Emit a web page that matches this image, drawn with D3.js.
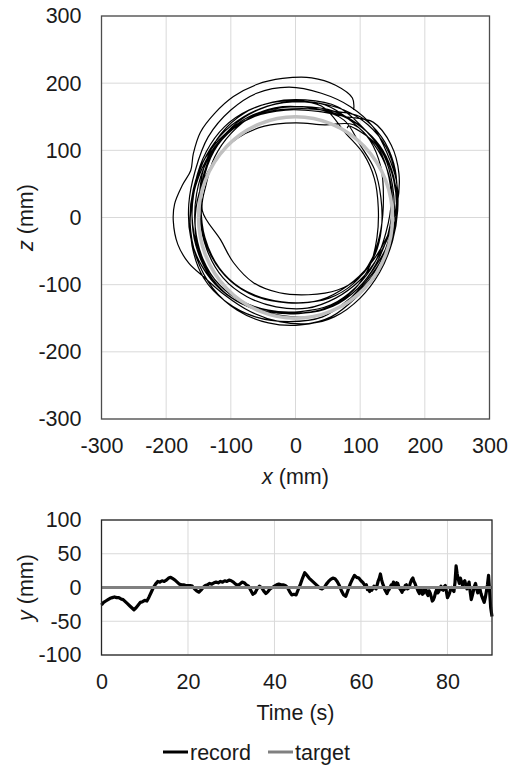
<!DOCTYPE html>
<html><head><meta charset="utf-8">
<script src="https://cdn.jsdelivr.net/npm/d3@7"></script>
<style>body{margin:0;background:#fff} text{font-family:"Liberation Sans",Arial,sans-serif}</style>
</head><body><svg id="c" width="514" height="767"></svg>
<script>
const xTicks = [-300,-200,-100,0,100,200,300];
const zTicks = [-300,-200,-100,0,100,200,300];
const timeTicks = [0,20,40,60,80];
const yTicks = [-100,-50,0,50,100];
const targetCircle = {cx:0, cz:0, r:150};
const recordXZ = [
[90,160],[88,178],[62,197],[25,208],[-20,207],[-60,198],[-96,180],[-125,155],[-147,127],[-158,95],[-162,70],[-175,48],[-187,20],[-189,-5],[-182,-40],[-165,-68],[-140,-90],[-110,-115],[-70,-140],[-25,-155],[20,-158],[60,-148],[100,-120],[130,-82],[150,-35],[158,10],[156,55],[142,95],
[120,135],[85,165],[40,185],[-10,194],[-60,185],[-100,160],[-135,120],[-155,70],[-165,20],[-162,-30],[-145,-72],[-115,-108],[-75,-132],[-28,-145],[20,-148],[65,-136],[100,-105],[130,-68],[150,-25],[157,20],[152,60],[135,100],
[110,128],[75,150],[30,162],[-20,165],[-65,152],[-100,125],[-125,90],[-138,50],[-144,10],[-116,-33],[-96,-67],[-65,-97],[-25,-112],[20,-115],[65,-108],[100,-88],[123,-55],[133,-15],[132,30],[122,72],[100,108],
[75,145],[25,163],[-25,163],[-72,150],[-110,122],[-138,82],[-153,35],[-155,-15],[-143,-62],[-118,-100],[-80,-127],[-35,-140],[12,-142],[58,-132],[96,-106],[124,-70],[143,-25],[150,22],[143,68],[122,108],[90,138],
[45,138],[0,141],[-48,136],[-90,118],[-122,88],[-145,48],[-155,2],[-150,-48],[-128,-92],[-92,-124],[-45,-140],[5,-143],[52,-133],[90,-108],[115,-72],[126,-30],[128,15],[122,58],[105,95],[78,125],
[40,166],[-10,172],[-58,160],[-98,135],[-128,98],[-145,52],[-148,2],[-137,-48],[-112,-90],[-75,-118],[-30,-133],[18,-135],[62,-120],[100,-93],[130,-55],[150,-10],[157,35],[152,80],[133,120],[100,150],
[60,158],[10,162],[-40,158],[-88,138],[-125,105],[-150,60],[-162,10],[-160,-42],[-142,-90],[-108,-125],[-62,-148],[-10,-155],[42,-148],[85,-120],[118,-88],[140,-45],[152,0],[150,48],[137,92],[110,128],
[65,165],[15,175],[-35,172],[-80,155],[-115,125],[-138,85],[-148,40],[-146,-10],[-130,-58],[-100,-95],[-60,-118],[-12,-127],[38,-123],[80,-102],[115,-70],[142,-28],[157,18],[160,65],[148,108],[120,142],
[78,150],[35,158],[-15,160],[-65,150],[-108,125],[-140,88],[-158,42],[-163,-8],[-153,-60],[-128,-105],[-90,-138],[-42,-157],[8,-160],[55,-148],[95,-118],[126,-84],[147,-40],[156,8],[152,55],[135,98],[108,130],
[60,158],[10,165],[-40,160],[-85,140],[-120,108],[-140,65],[-146,18],[-140,-30],[-118,-75],[-85,-105],[-42,-122],[5,-127],[52,-120],[90,-98],[118,-62],[132,-18],[136,30],[132,75],[115,115],[88,142],
[45,168],[-5,172],[-55,162],[-98,138],[-132,102],[-152,58],[-160,8],[-154,-42],[-132,-88],[-98,-120],[-55,-138],[-5,-143],[45,-137],[88,-113],[120,-78],[145,-35],[157,15],[155,62],[140,105],[112,138],
[75,160],[25,172],[-25,173],[-72,160],[-110,135],[-138,98],[-155,52],[-160,2],[-150,-48],[-125,-92],[-88,-122],[-42,-138],[8,-140],[55,-130],[93,-104],[122,-68],[140,-22],[148,25],[142,70],[125,108],[100,128],[82,136],[80,133]
];
const timeY = [
[0,-26],[0.5,-22],[1,-20],[1.5,-18],[2,-16],[2.5,-15],[3,-14],[3.5,-15],[4,-15],[4.5,-17],[5,-18],[5.5,-21],[6,-24],[6.5,-27],[7,-30],[7.5,-33],[8,-30],[8.5,-26],[9,-22],[9.5,-21],[10,-19],[10.5,-20],[11,-14],[11.5,-7],[12,0],[12.5,5],[13,9],[13.5,8],[14,10],[14.5,9],[15,11],[15.5,14],[16,15],[16.5,13],[17,11],[17.5,8],[18,5],[18.5,4],[19,4],[19.5,3],[20,3],[20.5,3],[21,2],[21.5,-2],[22,-5],[22.5,-7],[23,-4],[23.5,0],[24,3],[24.5,4],[25,6],[25.5,5],[26,7],[26.5,8],[27,7],[27.5,9],[28,8],[28.5,10],[29,9],[29.5,11],[30,10],[30.5,8],[31,5],[31.5,3],[32,5],[32.5,8],[33,7],[33.5,4],[34,2],[34.5,-4],[35,-10],[35.5,-8],[36,-2],[36.5,2],[37,0],[37.5,-5],[38,-9],[38.5,-6],[39,-2],[39.5,0],[40,2],[40.5,4],[41,5],[41.5,4],[42,4],[42.5,3],[43,0],[43.5,-6],[44,-11],[44.5,-10],[45,-11],[45.5,-3],[46,5],[46.5,14],[47,22],[47.5,18],[48,14],[48.5,11],[49,8],[49.5,5],[50,2],[50.5,-1],[51,-2],[51.5,0],[52,5],[52.5,9],[53,12],[53.5,14],[54,13],[54.5,9],[55,3],[55.5,-5],[56,-11],[56.5,-13],[57,-4],[57.5,5],[58,12],[58.5,18],[59,15],[59.5,14],[60,10],[60.5,7],[61,2],[61.25,4],[61.5,-3],[61.75,-1],[62,-6],[62.25,-3],[62.5,-4],[63,2],[63.25,-1],[63.5,-2],[64,10],[64.25,14],[64.5,20],[64.75,12],[65,6],[65.25,2],[65.5,-3],[65.75,-6],[66,-9],[66.25,-5],[66.5,-3],[67,4],[67.25,2],[67.5,8],[67.75,5],[68,3],[68.25,7],[68.5,6],[68.75,1],[69,-2],[69.25,-4],[69.5,-7],[69.75,-2],[70,-3],[70.25,3],[70.5,4],[70.75,-2],[71,-1],[71.25,3],[71.5,8],[71.75,12],[72,14],[72.25,9],[72.5,6],[72.75,1],[73,-2],[73.25,-6],[73.5,-9],[73.75,-3],[74,-4],[74.25,-10],[74.5,-8],[74.75,-1],[75,-3],[75.25,-9],[75.5,-12],[75.75,-5],[76,-8],[76.25,-14],[76.5,-20],[76.75,-18],[77,-14],[77.25,-7],[77.5,-3],[77.75,-8],[78,-6],[78.25,-1],[78.5,2],[78.75,-3],[79,-4],[79.25,1],[79.5,3],[79.75,-6],[80,-15],[80.25,-12],[80.5,-8],[80.75,-2],[81,0],[81.25,-4],[81.5,-6],[81.75,8],[82,32],[82.25,20],[82.5,12],[82.75,6],[83,14],[83.25,8],[83.5,3],[83.75,8],[84,10],[84.25,4],[84.5,-2],[84.75,3],[85,8],[85.25,-6],[85.5,-18],[85.75,-12],[86,-5],[86.25,2],[86.5,6],[86.75,-2],[87,-8],[87.25,-4],[87.5,-2],[87.75,-9],[88,-14],[88.25,-18],[88.5,-22],[88.75,-15],[89,-6],[89.25,4],[89.5,18],[89.75,-6],[90,-30],[90.3,-43]
];
const targetY = [[0,0],[90.3,0]];
const legendItems = [{name:"record", color:"#000000"},{name:"target", color:"#808080"}];

const svg = d3.select("#c");
const FS = 21.5;
const gridC = "#d9d9d9", axisC = "#4d4d4d", txtC = "#1a1a1a";
const fmt = d => String(d);

// ---- top chart ----
const xs = d3.scaleLinear().domain([-300,300]).range([101.5,489.5]);
const zs = d3.scaleLinear().domain([-300,300]).range([419,16]);
const gTop = svg.append("g");
gTop.selectAll(".gx").data(xTicks).join("line").attr("x1",d=>xs(d)).attr("x2",d=>xs(d)).attr("y1",zs(-300)).attr("y2",zs(300)).attr("stroke",gridC).attr("stroke-width",1);
gTop.selectAll(".gz").data(zTicks).join("line").attr("y1",d=>zs(d)).attr("y2",d=>zs(d)).attr("x1",xs(-300)).attr("x2",xs(300)).attr("stroke",gridC).attr("stroke-width",1);
const line2 = d3.line().x(d=>xs(d[0])).y(d=>zs(d[1])).curve(d3.curveCatmullRom.alpha(0.5));
gTop.append("path").attr("d",line2(recordXZ)).attr("fill","none").attr("stroke","#000").attr("stroke-width",1.2);
gTop.append("ellipse").attr("cx",xs(targetCircle.cx)).attr("cy",zs(targetCircle.cz))
  .attr("rx",xs(targetCircle.r)-xs(0)).attr("ry",zs(0)-zs(targetCircle.r))
  .attr("fill","none").attr("stroke","#c0c0c0").attr("stroke-width",3.5);
gTop.append("rect").attr("x",xs(-300)).attr("y",zs(300)).attr("width",xs(300)-xs(-300)).attr("height",zs(-300)-zs(300)).attr("fill","none").attr("stroke",axisC).attr("stroke-width",1.3);
const ax1 = gTop.append("g").attr("transform",`translate(0,${zs(-300)})`).call(d3.axisBottom(xs).tickValues(xTicks).tickFormat(fmt).tickSize(0).tickPadding(19));
const ay1 = gTop.append("g").attr("transform",`translate(${xs(-300)},0)`).call(d3.axisLeft(zs).tickValues(zTicks).tickFormat(fmt).tickSize(0).tickPadding(20));
[ax1,ay1].forEach(a=>{a.select(".domain").remove(); a.selectAll("text").attr("font-size",FS).attr("fill",txtC).attr("font-family","Liberation Sans, Arial, sans-serif");});
const xt = gTop.append("text").attr("x",(xs(-300)+xs(300))/2).attr("y",484).attr("text-anchor","middle").attr("font-size",FS).attr("fill",txtC);
xt.append("tspan").attr("font-style","italic").text("x");
xt.append("tspan").text(" (mm)");
const zt = gTop.append("text").attr("transform",`translate(33,${(zs(300)+zs(-300))/2}) rotate(-90)`).attr("text-anchor","middle").attr("font-size",FS).attr("fill",txtC);
zt.append("tspan").attr("font-style","italic").text("z");
zt.append("tspan").text(" (mm)");

// ---- bottom chart ----
const ts = d3.scaleLinear().domain([0,90.3]).range([101.5,492]);
const ys = d3.scaleLinear().domain([-100,100]).range([655,520]);
const gBot = svg.append("g");
gBot.selectAll(".gt").data(timeTicks).join("line").attr("x1",d=>ts(d)).attr("x2",d=>ts(d)).attr("y1",ys(-100)).attr("y2",ys(100)).attr("stroke",gridC);
gBot.selectAll(".gy").data(yTicks).join("line").attr("y1",d=>ys(d)).attr("y2",d=>ys(d)).attr("x1",ts(0)).attr("x2",ts(90.3)).attr("stroke",gridC);
const lineT = d3.line().x(d=>ts(d[0])).y(d=>ys(d[1]));
gBot.append("path").attr("d",lineT(timeY)).attr("fill","none").attr("stroke","#000").attr("stroke-width",3.2).attr("stroke-linejoin","round");
gBot.append("path").attr("d",lineT(targetY)).attr("fill","none").attr("stroke","#808080").attr("stroke-width",3);
gBot.append("rect").attr("x",ts(0)).attr("y",ys(100)).attr("width",ts(90.3)-ts(0)).attr("height",ys(-100)-ys(100)).attr("fill","none").attr("stroke","#262626").attr("stroke-width",1.3);
const ax2 = gBot.append("g").attr("transform",`translate(0,${ys(-100)})`).call(d3.axisBottom(ts).tickValues(timeTicks).tickFormat(fmt).tickSize(0).tickPadding(19));
const ay2 = gBot.append("g").attr("transform",`translate(${ts(0)},0)`).call(d3.axisLeft(ys).tickValues(yTicks).tickFormat(fmt).tickSize(0).tickPadding(20));
[ax2,ay2].forEach(a=>{a.select(".domain").remove(); a.selectAll("text").attr("font-size",FS).attr("fill",txtC).attr("font-family","Liberation Sans, Arial, sans-serif");});
gBot.append("text").attr("x",(xs(-300)+xs(300))/2).attr("y",720).attr("text-anchor","middle").attr("font-size",FS).attr("fill",txtC).text("Time (s)");
const yt = gBot.append("text").attr("transform",`translate(33,${(ys(100)+ys(-100))/2}) rotate(-90)`).attr("text-anchor","middle").attr("font-size",FS).attr("fill",txtC);
yt.append("tspan").attr("font-style","italic").text("y");
yt.append("tspan").text(" (mm)");

// ---- legend ----
const legX = [163, 268];
const lg = svg.append("g");
legendItems.forEach((it,i)=>{
  lg.append("line").attr("x1",legX[i]).attr("x2",legX[i]+25).attr("y1",752).attr("y2",752).attr("stroke",it.color).attr("stroke-width",3);
  lg.append("text").attr("x",legX[i]+27).attr("y",760).attr("font-size",FS).attr("fill",txtC).text(it.name);
});
</script></body></html>
